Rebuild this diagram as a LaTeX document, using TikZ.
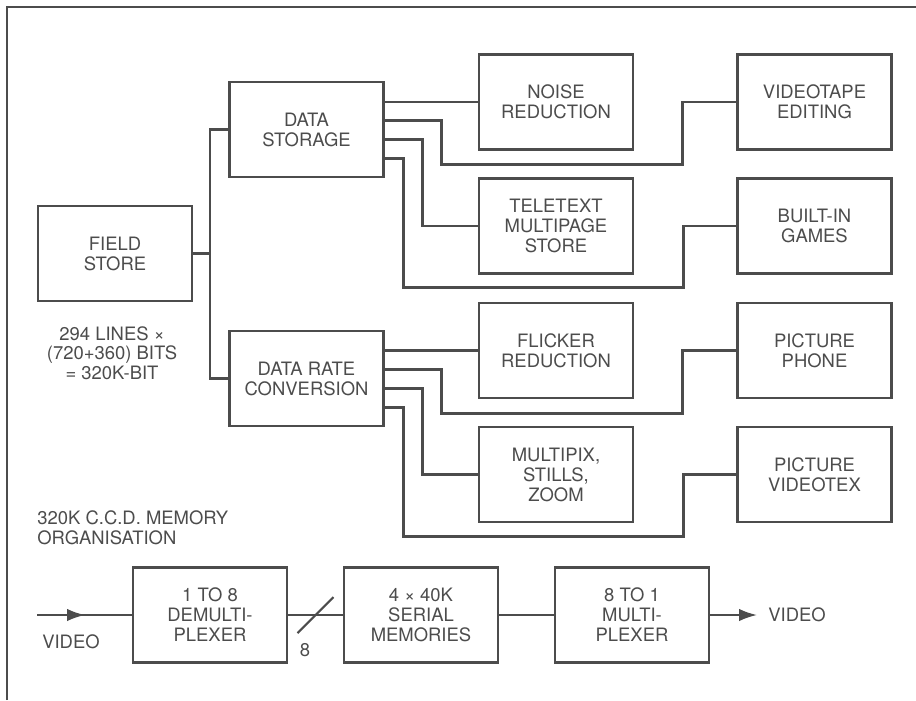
\documentclass[tikz,border=0pt]{standalone}
\usepackage{fontspec}
\setmainfont{TeX Gyre Heros}
\usetikzlibrary{arrows.meta,positioning,calc}
\definecolor{ink}{gray}{0.3}

\tikzset{
  blk/.style={draw=ink,line width=1.2pt,minimum width=3.08cm,minimum height=1.9cm,
    align=center,text=ink,inner sep=0pt,font=\fontsize{10.5}{11.4}\selectfont},
  wire/.style={draw=ink,line width=1.2pt},
  lbl/.style={text=ink,inner sep=0pt,font=\fontsize{10.5}{11}\selectfont},
}

\begin{document}
\begin{tikzpicture}[x=0.02cm,y=-0.02cm]
  \useasboundingbox (0,0) rectangle (916,700);
  \draw[wire,line width=0.9pt] (7,700) -- (7,7) -- (916,7);

  % store and the two branches
  \node[blk] (fs)  at (115,253.5)   {FIELD\\STORE};
  \node[blk] (ds)  at (306.5,129.5) {DATA\\STORAGE};
  \node[blk] (drc) at (306.5,378.5) {DATA RATE\\CONVERSION};
  \node[lbl,align=center] (bits) at (112,353) {294 LINES ×\\(720+360) BITS\\= 320K-BIT};

  % applications
  \node[blk] (nr) at (556,102)   {NOISE\\REDUCTION};
  \node[blk] (tt) at (556,226)   {TELETEXT\\MULTIPAGE\\STORE};
  \node[blk] (fr) at (556,350.5) {FLICKER\\REDUCTION};
  \node[blk] (mp) at (556,474.5) {MULTIPIX,\\STILLS,\\ZOOM};
  \node[blk] (vt) at (814.5,102)   {VIDEOTAPE\\EDITING};
  \node[blk] (bg) at (814.5,226)   {BUILT-IN\\GAMES};
  \node[blk] (pp) at (814.5,350.5) {PICTURE\\PHONE};
  \node[blk] (pv) at (814.5,474.5) {PICTURE\\VIDEOTEX};

  \coordinate (split) at (210,253.5);
  \draw[wire] (fs.east) -- (split);
  \draw[wire] (ds.west) -| (split) |- (drc.west);

  \foreach \src/\near/\far/\low/\farlow in {ds/nr/vt/tt/bg, drc/fr/pp/mp/pv} {
    \draw[wire] (\src.east |- \near.west) -- (\near.west);
    \draw[wire] ($(\src.east)+(0,-9)$) -- ++(57,0) -- ++(0,44) -- ++(241,0) |- (\far.west);
    \draw[wire] ($(\src.east)+(0,10)$) -- ++(38,0) |- (\low.west);
    \draw[wire] ($(\src.east)+(0,29)$) -- ++(19,0) -- ++(0,129) -- ++(280,0) |- (\farlow.west);
  }

  % memory organisation
  \node[lbl,anchor=west,align=left,font=\fontsize{10.5}{11.4}\selectfont] (org) at (37,528)
    {320K C.C.D. MEMORY\\ORGANISATION};

  \node[blk] (dmx) at (210,615) {1 TO 8\\DEMULTI-\\PLEXER};
  \node[blk] (mem) at (421,615) {4 × 40K\\SERIAL\\MEMORIES};
  \node[blk] (mux) at (632,615) {8 TO 1\\MULTI-\\PLEXER};

  \coordinate (vin)  at (37,615);
  \coordinate (vmid) at (85,615);
  \coordinate (vout) at (757,615);
  \draw[wire] (vin) -- (dmx.west);
  \draw[wire,-{Latex[length=3.6mm,width=2.5mm]}] (vin) -- (vmid);
  \node[lbl] (vinlbl) at (71,642) {VIDEO};

  \draw[wire] (dmx) -- (mem);
  \draw[wire] ($(dmx.east)!0.5!(mem.west)$) +(-18,18) -- +(18,-18);
  \node[lbl] (bus) at (305,650) {8};

  \draw[wire] (mem) -- (mux);
  \draw[wire,-{Latex[length=3.6mm,width=2.5mm]}] (mux.east) -- (vout);
  \node[lbl,anchor=west] (voutlbl) at (768,615) {VIDEO};
\end{tikzpicture}
\end{document}
